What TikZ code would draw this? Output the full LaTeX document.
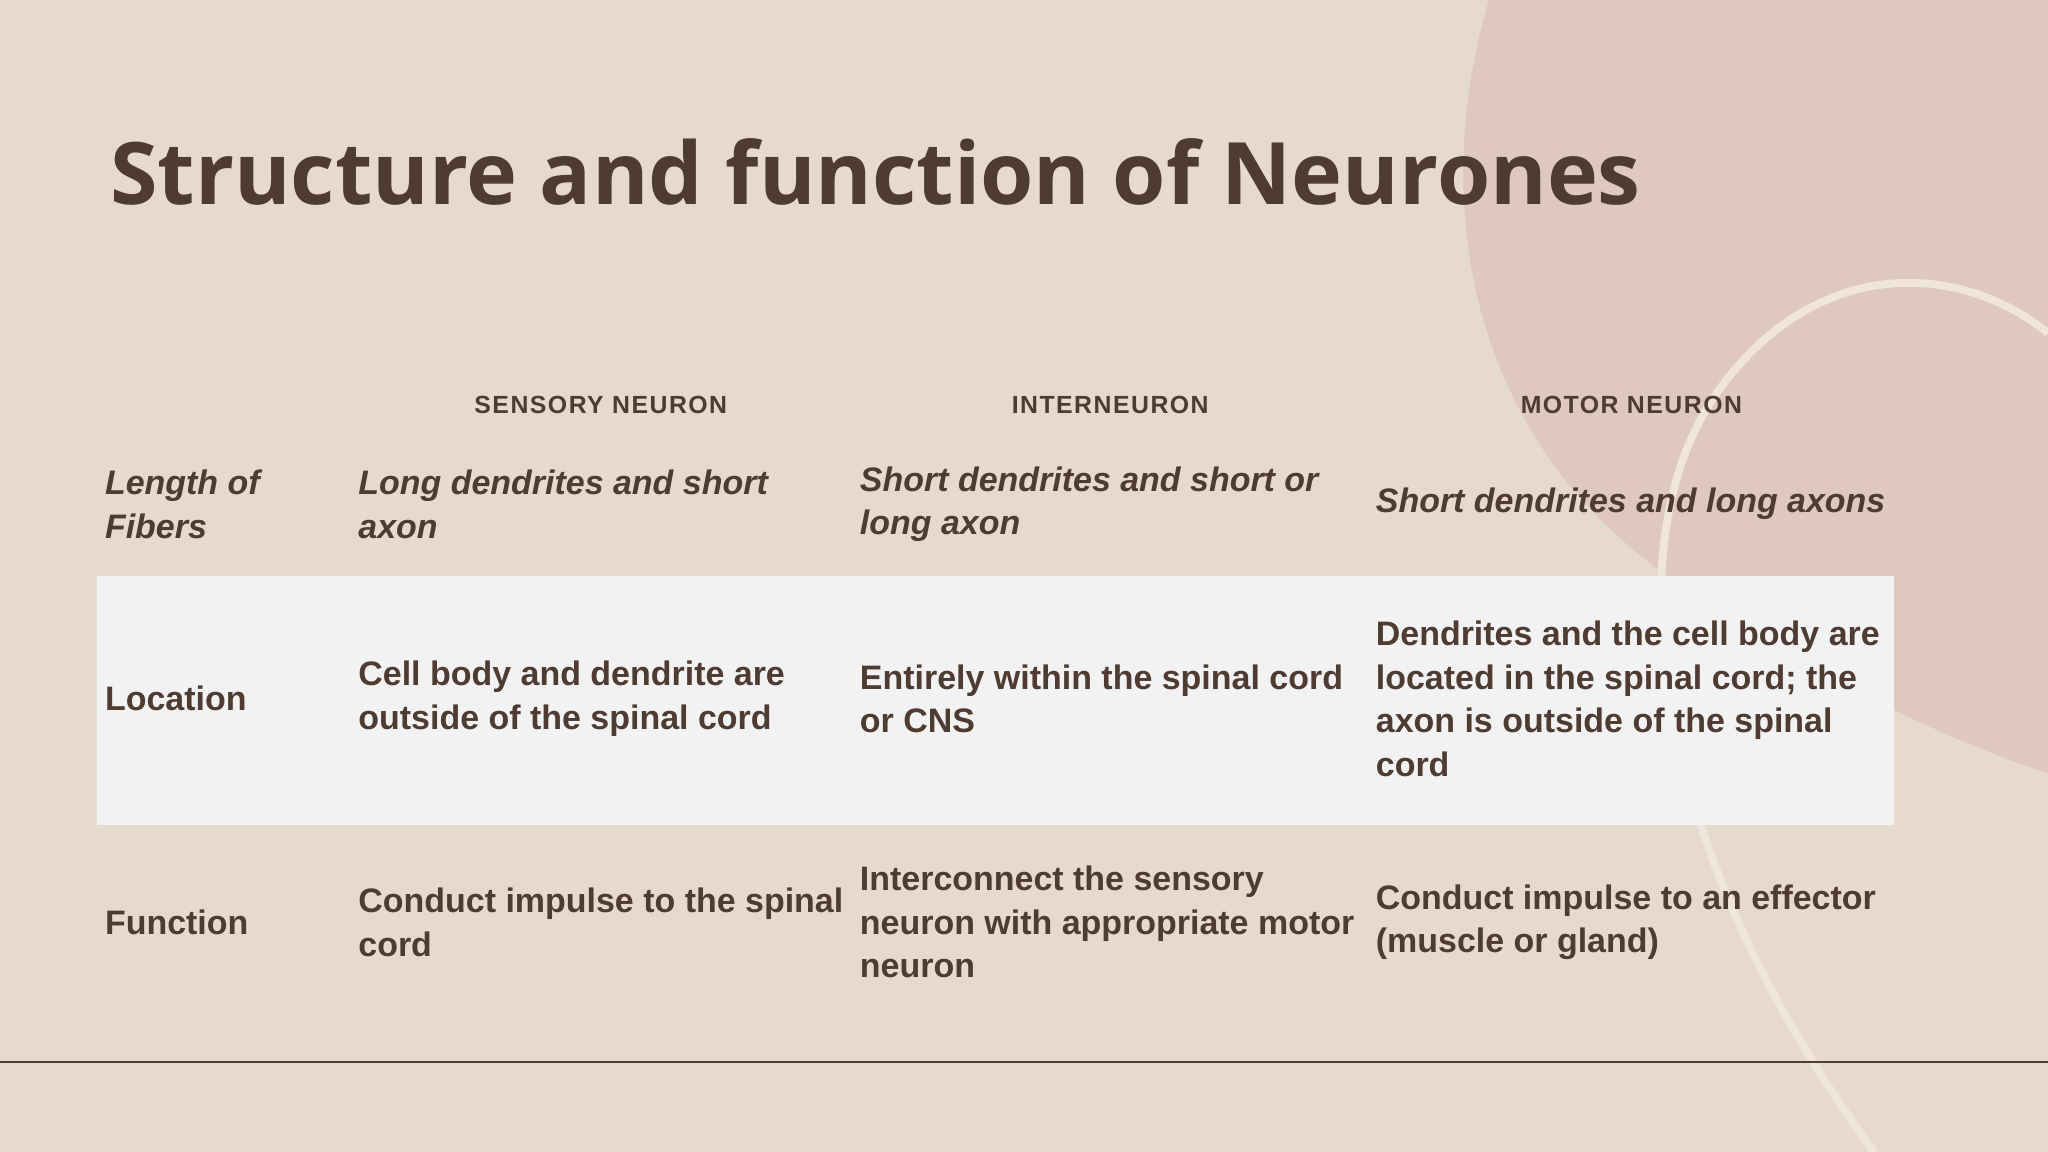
\documentclass[tikz,border=0pt]{standalone}
\usepackage{fontspec}
\setmainfont{Liberation Sans}
\newfontfamily\titlefont{Open Sans}
\definecolor{bg}{HTML}{E6DACF}
\definecolor{blob}{HTML}{DFC8BD}
\definecolor{ink}{HTML}{4E3B31}
\definecolor{band}{HTML}{F2F2F2}
\definecolor{arc}{HTML}{F0E5DB}
\begin{document}
\begin{tikzpicture}[x=0.5pt,y=-0.5pt,
  cell/.style={anchor=west,align=left,inner sep=0pt,text=ink,font=\fontsize{13}{16.7}\selectfont\bfseries},
  icell/.style={cell,font=\fontsize{13}{16.7}\selectfont\bfseries\itshape},
  head/.style={inner sep=0pt,text=ink,font=\fontsize{9.5}{11}\selectfont\bfseries\addfontfeatures{LetterSpace=6}}]
\fill[bg] (0,0) rectangle (1568,882);
\useasboundingbox (0,0) rectangle (1568,882);
\fill[blob] (1140,0) .. controls (1095,150) and (1120,340) .. (1290,450) .. controls (1400,525) and (1500,570) .. (1568,592) -- (1568,0) -- cycle;
\draw[arc,line width=3pt] (1568,255) .. controls (1500,200) and (1390,195) .. (1315,300) .. controls (1230,420) and (1270,660) .. (1435,882);
\fill[band] (74,441) rectangle (1450,632);
\draw[ink,line width=0.8pt] (0,813) -- (1568,813);
\node[anchor=west,inner sep=0pt,text=ink,font=\titlefont\fontsize{33}{40}\selectfont\bfseries] (title) at (84,132) {Structure and function of Neurones};
\node[head] (h1) at (460,310) {SENSORY NEURON};
\node[head] (h2) at (850,310) {INTERNEURON};
\node[head] (h3) at (1249,310) {MOTOR NEURON};
\node[icell] (a1) at (80,386) {Length of\\Fibers};
\node[icell] (a2) at (274,386) {Long dendrites and short\\axon};
\node[icell] (a3) at (658,386) {Short dendrites and short or\\long axon};
\node[icell] (a4) at (1053,386) {Short dendrites and long axons};
\node[cell] (b1) at (80,535) {Location};
\node[cell] (b2) at (274,535) {Cell body and dendrite are\\outside of the spinal cord};
\node[cell] (b3) at (658,535) {Entirely within the spinal cord\\or CNS};
\node[cell] (b4) at (1053,535) {Dendrites and the cell body are\\located in the spinal cord; the\\axon is outside of the spinal\\cord};
\node[cell] (c1) at (80,706) {Function};
\node[cell] (c2) at (274,706) {Conduct impulse to the spinal\\cord};
\node[cell] (c3) at (658,706) {Interconnect the sensory\\neuron with appropriate motor\\neuron};
\node[cell] (c4) at (1053,706) {Conduct impulse to an effector\\(muscle or gland)};
\end{tikzpicture}
\end{document}
